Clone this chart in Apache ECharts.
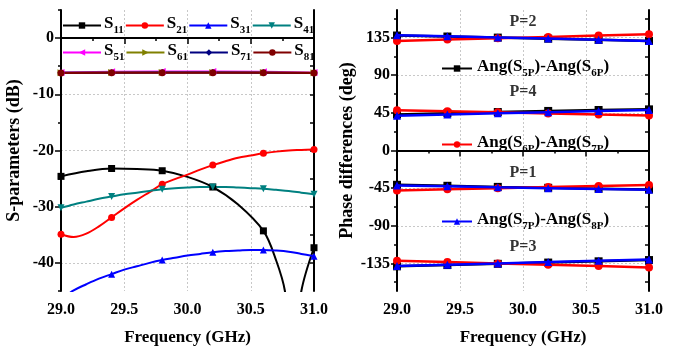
<!DOCTYPE html>
<html>
<head>
<meta charset="utf-8">
<script src="https://cdn.jsdelivr.net/npm/echarts@6/dist/echarts.min.js"></script>
<style>html,body{margin:0;padding:0;background:#fff}#c{width:684px;height:351px}</style>
</head>
<body>
<div id="c"></div>
<script>
// ---------- Data: left panel (S-parameters, dB) ----------
const freq = [29.0,29.1,29.2,29.3,29.4,29.5,29.6,29.7,29.8,29.9,30.0,30.1,30.2,30.3,30.4,30.5,30.6,30.7,30.8,30.9,31.0];
const s11Freq = [29.0,29.2,29.4,29.6,29.8,30.0,30.2,30.4,30.6,30.7,30.77,30.83,30.9,31.0];
const s11 = [-24.6,-23.7,-23.2,-23.3,-23.6,-24.7,-26.5,-29.6,-34.3,-39.5,-45,-58,-45,-37.3];
const s21 = [-34.9,-35.4,-34.8,-33.5,-31.9,-30.3,-28.8,-27.4,-26.0,-25.1,-24.3,-23.4,-22.6,-21.9,-21.3,-20.9,-20.5,-20.2,-20.0,-19.9,-19.8];
const s31 = [-46.5,-44.9,-43.8,-42.8,-42.0,-41.2,-40.6,-40.0,-39.5,-39.1,-38.7,-38.4,-38.1,-37.9,-37.8,-37.7,-37.7,-37.8,-38.0,-38.4,-38.8];
const s41 = [-30.2,-29.6,-29.1,-28.6,-28.2,-27.8,-27.5,-27.2,-26.9,-26.7,-26.6,-26.5,-26.5,-26.5,-26.6,-26.7,-26.8,-27.0,-27.2,-27.5,-27.8];
const markFreq = [29.0,29.4,29.8,30.2,30.6,31.0];
const s51 = [-6.1,-6.0,-5.95,-5.95,-6.0,-6.1];
const s61 = [-6.15,-6.1,-6.1,-6.1,-6.1,-6.15];
const s71 = [-6.15,-6.15,-6.1,-6.1,-6.15,-6.2];
const s81 = [-6.2,-6.15,-6.15,-6.15,-6.15,-6.2];
const sNames = ['S11','S21','S31','S41','S51','S61','S71','S81'];
const dbMajor = [-40,-30,-20,-10,0];
const dbMinor = [-45,-35,-25,-15,-5,5];

// ---------- Data: right panel (phase differences, deg) ----------
const phaseFreq = [29.0,29.4,29.8,30.2,30.6,31.0];
const ang56_P2 = [137.5,136.3,135.0,133.7,132.3,131.0];
const ang56_P4 = [43.0,44.5,46.0,47.3,48.4,49.2];
const ang56_P1 = [-41.0,-42.2,-43.5,-44.6,-45.6,-46.5];
const ang56_P3 = [-138.5,-137.0,-135.5,-134.0,-132.5,-131.0];
const ang67_P2 = [131.0,132.6,134.2,135.8,137.4,139.0];
const ang67_P4 = [48.2,46.9,45.6,44.3,43.0,41.8];
const ang67_P1 = [-47.8,-46.4,-45.0,-43.7,-42.4,-41.2];
const ang67_P3 = [-131.8,-133.4,-135.0,-136.6,-138.2,-139.8];
const ang78_P2 = [137.8,136.5,135.2,133.8,132.4,131.0];
const ang78_P4 = [41.6,43.0,44.4,45.8,47.1,48.3];
const ang78_P1 = [-41.8,-42.8,-44.0,-45.0,-46.0,-47.0];
const ang78_P3 = [-138.0,-136.5,-135.0,-133.3,-131.8,-130.3];
const degMajor = [-135,-90,-45,0,45,90,135];
const degMinor = [-157.5,-112.5,-67.5,-22.5,22.5,67.5,112.5,157.5];
const pLabels = [['P=2',154],['P=4',70],['P=1',-27],['P=3',-115]];

const FONT = "'Liberation Serif','Times New Roman',serif";
const zip = (xs, ys) => xs.map((x, i) => [x, ys[i]]);
const isMark = v => markFreq.some(m => Math.abs(m - v[0]) < 1e-6);

const sym = {
  square: 'rect',
  circle: 'circle',
  up: 'triangle',
  down: 'path://M0,0 L10,0 L5,9 Z',
  left: 'path://M9,0 L9,10 L0,5 Z',
  right: 'path://M0,0 L0,10 L9,5 Z',
  diamond: 'diamond'
};

function sSeries(name, xs, ys, color, symbol, smooth) {
  return {
    name, type: 'line', xAxisIndex: 0, yAxisIndex: 0,
    data: zip(xs, ys), smooth: smooth ? 0.35 : false,
    symbol, showAllSymbol: true,
    symbolSize: v => isMark(v) ? 7 : 0,
    lineStyle: {color, width: 2}, itemStyle: {color},
    clip: true, z: 3
  };
}
function pSeries(name, ys, color, symbol, z) {
  return {
    name, type: 'line', xAxisIndex: 2, yAxisIndex: 3,
    data: zip(phaseFreq, ys), symbol, symbolSize: 8,
    lineStyle: {color, width: 2.5}, itemStyle: {color}, z
  };
}

const axisLineStyle = {lineStyle: {color: '#000', width: 2}};
const lblStyle = {color: '#000', fontFamily: FONT, fontWeight: 'bold', fontSize: 16};
const nameStyleX = {color: '#000', fontFamily: FONT, fontWeight: 'bold', fontSize: 17};
const nameStyleY = {color: '#000', fontFamily: FONT, fontWeight: 'bold', fontSize: 18};
const split = {show: true, lineStyle: {color: '#c8c8c8', type: [2, 2], width: 1}};
const tickLine = {color: '#000', width: 1.5};

function xMain(grid) {
  return {type: 'value', gridIndex: grid, min: 29, max: 31, interval: 0.5, position: 'bottom',
    name: 'Frequency (GHz)', nameLocation: 'middle', nameGap: 38, nameTextStyle: nameStyleX,
    axisLine: axisLineStyle, axisTick: {inside: false, length: 6, lineStyle: tickLine},
    minorTick: {show: true, splitNumber: 2, length: 3, lineStyle: tickLine},
    axisLabel: {...lblStyle, margin: 11, formatter: v => v.toFixed(1)},
    splitLine: split};
}
function xMirror(grid) {
  return {type: 'value', gridIndex: grid, min: 29, max: 31, interval: 0.5, position: 'top',
    axisLine: axisLineStyle, axisTick: {inside: true, length: 6, lineStyle: tickLine},
    minorTick: {show: true, splitNumber: 2, length: 3, lineStyle: tickLine},
    axisLabel: {show: false}, splitLine: {show: false}};
}
function yAxes(grid, min, max, major, minor, name, gap) {
  return [{
    type: 'value', gridIndex: grid, min, max, position: 'left',
    name, nameLocation: 'middle', nameGap: gap, nameTextStyle: nameStyleY,
    axisLine: axisLineStyle,
    axisTick: {inside: false, length: 6, lineStyle: tickLine, customValues: major},
    axisLabel: {...lblStyle, margin: 7, customValues: major},
    splitLine: split
  }, {
    type: 'value', gridIndex: grid, min, max, position: 'left',
    axisLine: {show: false},
    axisTick: {inside: false, length: 3, lineStyle: tickLine, customValues: minor},
    axisLabel: {show: false}, splitLine: {show: false}
  }, {
    type: 'value', gridIndex: grid, min, max, position: 'right',
    axisLine: axisLineStyle,
    axisTick: {inside: true, length: 4, lineStyle: tickLine, customValues: major.concat(minor).filter(v => v > min && v < max)},
    axisLabel: {show: false}, splitLine: {show: false}
  }];
}

const subRich = {
  n: {fontFamily: FONT, fontWeight: 'bold', fontSize: 17, color: '#000', verticalAlign: 'bottom', padding: [0, 0, 4, 0]},
  s: {fontFamily: FONT, fontWeight: 'bold', fontSize: 11, color: '#000', verticalAlign: 'bottom'}
};
function sLegend(names, top) {
  return {data: names, left: 62, top, itemWidth: 38, itemHeight: 8, itemGap: 1, padding: 0,
    formatter: n => `{n|S}{s|${n.slice(1)}}`, textStyle: {rich: subRich, padding: [0, 0, 0, -2]}};
}
const angNames = ['Ang(S5P)-Ang(S6P)', 'Ang(S6P)-Ang(S7P)', 'Ang(S7P)-Ang(S8P)'];
function angLegend(i, top) {
  return {data: [angNames[i]], left: 441, top, itemWidth: 30, itemHeight: 8, padding: 0,
    formatter: n => {
      const m = n.match(/Ang\(S(\w+)\)-Ang\(S(\w+)\)/);
      return `{n|Ang(S}{s|${m[1]}}{n|)-Ang(S}{s|${m[2]}}{n|)}`;
    },
    textStyle: {rich: subRich}};
}

const series = [
  sSeries('S11', s11Freq, s11, '#000000', sym.square, true),
  sSeries('S21', freq, s21, '#ff0000', sym.circle, true),
  sSeries('S31', freq, s31, '#0000ff', sym.up, true),
  sSeries('S41', freq, s41, '#008080', sym.down, true),
  sSeries('S51', markFreq, s51, '#ff00ff', sym.left, false),
  sSeries('S61', markFreq, s61, '#808000', sym.right, false),
  sSeries('S71', markFreq, s71, '#000080', sym.diamond, false),
  sSeries('S81', markFreq, s81, '#800000', sym.circle, false)
];
[ang56_P2, ang56_P4, ang56_P1, ang56_P3].forEach(d => series.push(pSeries(angNames[0], d, '#000000', 'rect', 3)));
[ang67_P2, ang67_P4, ang67_P1, ang67_P3].forEach(d => series.push(pSeries(angNames[1], d, '#ff0000', 'circle', 4)));
[ang78_P2, ang78_P4, ang78_P1, ang78_P3].forEach(d => series.push(pSeries(angNames[2], d, '#0000ff', 'triangle', 5)));
series.push({
  type: 'scatter', xAxisIndex: 2, yAxisIndex: 3, symbolSize: 0, silent: true,
  data: pLabels.map(p => ({value: [30.0, p[1]], name: p[0]})),
  label: {show: true, position: 'inside', formatter: p => p.name,
    fontFamily: FONT, fontWeight: 'bold', fontSize: 16, color: '#000'}
});

const chart = echarts.init(document.getElementById('c'), null, {renderer: 'canvas'});
chart.setOption({
  animation: false,
  backgroundColor: '#fff',
  grid: [
    {left: 61, top: 10, width: 253, height: 284},
    {left: 397, top: 10, width: 252, height: 284}
  ],
  xAxis: [xMain(0), xMirror(0), xMain(1), xMirror(1)],
  yAxis: [
    ...yAxes(0, -45, 5, dbMajor, dbMinor, 'S-parameters (dB)', 38),
    ...yAxes(1, -168, 168, degMajor, degMinor, 'Phase differences (deg)', 40)
  ],
  legend: [
    sLegend(sNames.slice(0, 4), 15),
    sLegend(sNames.slice(4), 42),
    angLegend(0, 58),
    angLegend(1, 134),
    angLegend(2, 211)
  ],
  series
});
</script>
</body>
</html>
